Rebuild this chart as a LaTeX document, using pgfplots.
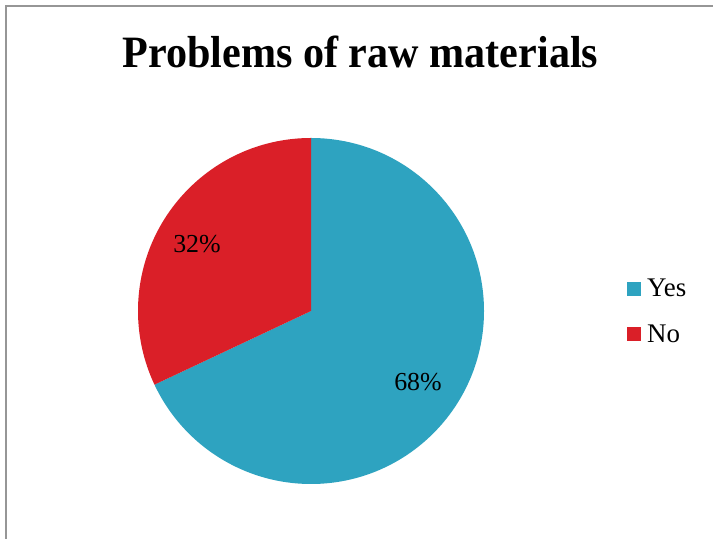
\documentclass[border=0pt]{standalone}
\usepackage{pgfplots}
\pgfplotsset{compat=1.18}
\usepackage{pgfplotstable}
\usepackage{fontspec}
\setmainfont{Liberation Serif}

\definecolor{yescol}{RGB}{46,163,192}
\definecolor{nocol}{RGB}{218,31,40}
\definecolor{framecol}{RGB}{150,150,150}

\pgfplotstableread{
label value
Yes 68
No 32
}\piedata

\begin{document}
\begin{tikzpicture}
\pgfplotstablegetelem{0}{value}\of\piedata \edef\vYes{\pgfplotsretval}
\pgfplotstablegetelem{1}{value}\of\piedata \edef\vNo{\pgfplotsretval}
\pgfmathsetmacro{\aYes}{90-3.6*\vYes}
\pgfmathsetmacro{\aNo}{90+3.6*\vNo}
\begin{axis}[
  scale only axis, width=713bp, height=539bp,
  xmin=0, xmax=713, ymin=0, ymax=539,
  hide axis, clip=false,
]
  % canvas and frame
  \path[use as bounding box, fill=white] (axis cs:0,0) rectangle (axis cs:713,539);
  \draw[framecol, line width=1.5pt] (axis cs:6,0) -- (axis cs:6,533) -- (axis cs:713,533);
  % pie slices, clockwise from twelve o'clock
  \fill[yescol] (axis cs:311,228) -- (axis cs:311,401)
      arc[start angle=90, end angle=\aYes, radius=173bp] -- cycle;
  \fill[nocol] (axis cs:311,228) -- (axis cs:311,401)
      arc[start angle=90, end angle=\aNo, radius=173bp] -- cycle;
  % data labels
  \node[font=\fontsize{26}{30}\selectfont] at (axis cs:197,295) {\vNo\%};
  \node[font=\fontsize{26}{30}\selectfont] at (axis cs:418,157) {\vYes\%};
  % title
  \node[anchor=base, xscale=0.94, font=\fontsize{45}{52}\bfseries\selectfont] at (axis cs:360.5,471) {Problems of raw materials};
  % legend
  \fill[yescol] (axis cs:627,243) rectangle (axis cs:641,257);
  \node[anchor=base west, inner sep=0pt, font=\fontsize{27}{30}\selectfont] at (axis cs:647,242) {Yes};
  \fill[nocol] (axis cs:627,198) rectangle (axis cs:641,212);
  \node[anchor=base west, inner sep=0pt, font=\fontsize{27}{30}\selectfont] at (axis cs:647,196) {No};
\end{axis}
\end{tikzpicture}
\end{document}
